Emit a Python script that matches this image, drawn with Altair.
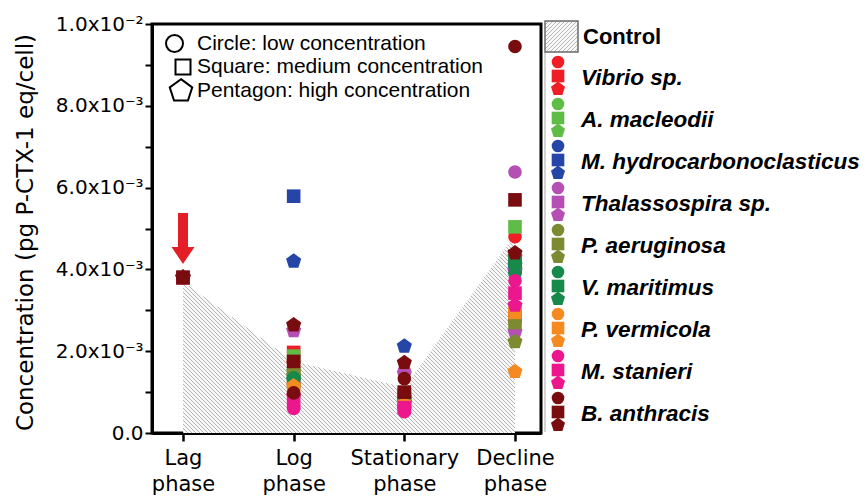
import altair as alt
import numpy as np
import pandas as pd

# ---------------------------------------------------------------- data
species = ["Vibrio sp.", "A. macleodii", "M. hydrocarbonoclasticus",
           "Thalassospira sp.", "P. aeruginosa", "V. maritimus",
           "P. vermicola", "M. stanieri", "B. anthracis"]
species_colors = ["#EE1D26", "#5FBC46", "#2546A6", "#B54FB4", "#7E8A32",
                  "#17894B", "#F58A21", "#EC168D", "#780C0F"]
concentrations = ["low", "medium", "high"]

phase_positions = [1, 2, 3, 4]
phase_names = ["Lag", "Log", "Stationary", "Decline"]

# toxin per cell in 1e-3 pg P-CTX-1 eq/cell; one row per species (low, medium, high)
lag_values = [
    [3.80, 3.80, 3.80], [3.80, 3.80, 3.80], [3.80, 3.80, 3.80],
    [3.80, 3.80, 3.80], [3.80, 3.80, 3.80], [3.80, 3.80, 3.80],
    [3.80, 3.80, 3.80], [3.80, 3.80, 3.80], [3.80, 3.80, 3.80],
]
log_values = [
    [1.55, 1.97, 1.70],
    [1.60, 1.88, 1.50],
    [1.45, 5.79, 4.20],
    [1.20, 1.30, 2.50],
    [1.55, 1.45, 1.40],
    [1.35, 1.25, 1.30],
    [1.10, 1.05, 1.15],
    [0.60, 0.75, 0.90],
    [0.98, 1.75, 2.64],
]
stationary_values = [
    [0.95, 0.90, 0.85],
    [0.80, 0.78, 0.82],
    [0.85, 0.95, 2.12],
    [1.52, 0.90, 1.45],
    [0.75, 0.80, 0.70],
    [0.72, 0.78, 0.74],
    [0.68, 0.65, 0.70],
    [0.52, 0.62, 0.58],
    [1.33, 1.00, 1.72],
]
decline_values = [
    [4.80, 2.85, 4.30],
    [4.20, 5.04, 4.00],
    [4.15, 4.05, 3.95],
    [6.38, 4.06, 2.47],
    [4.28, 2.70, 2.23],
    [3.90, 4.20, 4.10],
    [3.00, 2.95, 1.50],
    [3.72, 3.42, 3.12],
    [9.45, 5.70, 4.40],
]
control_values = [3.70, 1.75, 1.12, 4.85]

y_tick_values = [0, 1, 2, 3, 4, 5, 6, 7, 8, 9, 10]
y_tick_labels = ["0.0", "", "2.0x10⁻³", "", "4.0x10⁻³", "", "6.0x10⁻³", "",
                 "8.0x10⁻³", "", "1.0x10⁻²"]

shape_notes = ["Circle: low concentration", "Square: medium concentration",
               "Pentagon: high concentration"]

# ------------------------------------------------------------ geometry
W, H = 389, 409
X_DOM = [0.72, 4.235]
Y_DOM = [0, 10]
PENTAGON = "M0,-1L0.951,-0.309L0.588,0.809L-0.588,0.809L-0.951,-0.309Z"
# same pentagon drawn a little larger so it matches the circles at equal size
PENTAGON_MARK = "M0,-1.17L1.113,-0.362L0.688,0.947L-0.688,0.947L-1.113,-0.362Z"
ARROW_HEAD = "M-1,0L1,0L0,1.48Z"
ARROW_RED = "#E41E26"
HATCH_GREY = "#b4b4b4"
MARK_SIZE = 185


def x_px(x):
    return (np.asarray(x) - X_DOM[0]) / (X_DOM[1] - X_DOM[0]) * W


def y_px(v):
    return H - np.asarray(v) / Y_DOM[1] * H


def px_x(px):
    return X_DOM[0] + np.asarray(px) / W * (X_DOM[1] - X_DOM[0])


def px_y(py):
    return (H - np.asarray(py)) / H * Y_DOM[1]


def runs(mask):
    m = np.concatenate([[0], mask.astype(int), [0]])
    d = np.diff(m)
    return list(zip(np.where(d == 1)[0], np.where(d == -1)[0] - 1))


x_scale = alt.Scale(domain=X_DOM, nice=False, zero=False)
y_scale = alt.Scale(domain=Y_DOM, nice=False, zero=False)

# ------------------------------------------------------------ tables
rows = []
for pos, table in zip(phase_positions,
                      [lag_values, log_values, stationary_values, decline_values]):
    for sp, triple in zip(species, table):
        for conc, v in zip(concentrations, triple):
            rows.append({"phase": pos, "species": sp, "conc": conc, "value": v})
points = pd.DataFrame(rows)

control = pd.DataFrame({"phase": phase_positions, "value": control_values})

# diagonal hatching under the control curve
sx = np.arange(float(x_px(1)), float(x_px(4)) + 0.01, 0.25)
curve = y_px(np.interp(px_x(sx), phase_positions, control_values))
segs = []
for c in np.arange(-float(x_px(4)), H - float(x_px(1)) + 4, 4.0):
    sy = sx + c
    inside = (sy >= curve) & (sy <= H)
    for a, b in runs(inside):
        segs.append({"x": px_x(sx[a]), "y": px_y(sy[a]),
                     "x2": px_x(sx[b]), "y2": px_y(sy[b])})
hatch = pd.DataFrame(segs)

# legend swatch for the control, hatched the other way
BOX = (393, 426, -3, 28)
bx = np.arange(BOX[0], BOX[1] + 0.01, 0.25)
bsegs = []
for c in np.arange(BOX[0] + BOX[2], BOX[1] + BOX[3] + 4, 4.0):
    by = c - bx
    inside = (by >= BOX[2]) & (by <= BOX[3])
    for a, b in runs(inside):
        bsegs.append({"x": px_x(bx[a]), "y": px_y(by[a]),
                      "x2": px_x(bx[b]), "y2": px_y(by[b])})
box_hatch = pd.DataFrame(bsegs)
box = pd.DataFrame([{"x": px_x(BOX[0]), "x2": px_x(BOX[1]),
                     "y": px_y(BOX[2]), "y2": px_y(BOX[3])}])

# species legend entries
leg_rows, lab_rows = [], []
for i, sp in enumerate(species):
    for conc, off in zip(concentrations, [38, 52, 65]):
        leg_rows.append({"species": sp, "conc": conc,
                         "x": px_x(406), "y": px_y(off + 42 * i)})
    lab_rows.append({"species": sp, "y": px_y(54 + 42 * i)})
leg_marks = pd.DataFrame(leg_rows)
leg_labels = pd.DataFrame(lab_rows)

# ------------------------------------------------------------ axes
y_expr = "''"
for v, lab in reversed(list(zip(y_tick_values, y_tick_labels))):
    y_expr = f"datum.value == {v} ? '{lab}' : {y_expr}"
x_expr = "''"
for pos, name in reversed(list(zip(phase_positions, phase_names))):
    x_expr = f"datum.value == {pos} ? ['{name}', 'phase'] : {x_expr}"

y_axis = alt.Axis(values=y_tick_values, labelExpr=y_expr,
                  title="Concentration (pg P-CTX-1 eq/cell)",
                  titleFont="DejaVu Sans", titleFontSize=23,
                  titleFontWeight="normal", titleColor="black",
                  titleX=-127, titleY=208, titleAngle=270,
                  titleAlign="center", titleBaseline="middle",
                  labelFont="DejaVu Sans", labelFontSize=20, labelColor="black",
                  labelPadding=2, labelFlush=False, labelOverlap=False,
                  tickSize=7, tickWidth=2, tickColor="black",
                  domainColor="black", domainWidth=3, grid=False)
x_axis = alt.Axis(values=phase_positions, labelExpr=x_expr, title="",
                  labelFont="DejaVu Sans", labelFontSize=21, labelColor="black",
                  labelLineHeight=26, labelPadding=6, labelFlush=False,
                  labelOverlap=False, tickSize=8, tickWidth=2.5,
                  tickColor="black", domainColor="black", domainWidth=3,
                  grid=False)

color_scale = alt.Scale(domain=species, range=species_colors)
shape_scale = alt.Scale(domain=concentrations,
                        range=["circle", "square", PENTAGON_MARK])


def X(field):
    return alt.X(field, type="quantitative", scale=x_scale, axis=x_axis)


def Y(field):
    return alt.Y(field, type="quantitative", scale=y_scale, axis=y_axis)


# ------------------------------------------------------------ layers
area = alt.Chart(control).mark_area(color="#f8f8f8").encode(
    x=X("phase"), y=Y("value"))

hatch_lines = alt.Chart(hatch).mark_rule(color=HATCH_GREY, strokeWidth=1).encode(
    x=X("x"), y=Y("y"), x2="x2", y2="y2")

arrow = pd.DataFrame({"phase": [1], "top": [5.38], "bottom": [4.50], "tip": [4.55]})
arrow_shaft = alt.Chart(arrow).mark_rule(color=ARROW_RED, strokeWidth=10,
                                         strokeCap="butt").encode(
    x=X("phase"), y=Y("top"), y2="bottom")
arrow_tip = alt.Chart(arrow).mark_point(shape=ARROW_HEAD, size=529, filled=True,
                                        color=ARROW_RED, opacity=1).encode(
    x=X("phase"), y=Y("tip"))

dots = alt.Chart(points).mark_point(filled=True, opacity=1, size=MARK_SIZE).encode(
    x=X("phase"), y=Y("value"),
    color=alt.Color("species:N", scale=color_scale, legend=None),
    shape=alt.Shape("conc:N", scale=shape_scale, legend=None),
)

# shape key in the upper left
note_layers = []
for shp, sz, nx, ny in [("circle", 289, 22.5, 19.5), ("square", 225, 31, 43),
                        (PENTAGON, 560, 29, 67)]:
    d = pd.DataFrame([{"x": px_x(nx), "y": px_y(ny)}])
    note_layers.append(alt.Chart(d).mark_point(shape=shp, size=sz, filled=False,
                                               stroke="black", strokeWidth=2,
                                               opacity=1).encode(x=X("x"), y=Y("y")))
notes = pd.DataFrame({"label": shape_notes, "y": [px_y(p) for p in [19.5, 43, 67]]})
note_text = alt.Chart(notes).mark_text(align="left", baseline="middle",
                                       font="Liberation Sans", fontSize=21,
                                       color="black").encode(
    x=alt.value(45), y=Y("y"), text="label:N")

# legend on the right
legend_line = pd.DataFrame([{"x": px_x(393), "y": px_y(28), "y2": px_y(408)}])
leg_rule = alt.Chart(legend_line).mark_rule(color="#b5b5b5", strokeWidth=1.2,
                                            clip=False).encode(
    x=X("x"), y=Y("y"), y2="y2")
box_fill = alt.Chart(box).mark_rect(fill="#f8f8f8", clip=False).encode(
    x=X("x"), x2="x2", y=Y("y"), y2="y2")
box_lines = alt.Chart(box_hatch).mark_rule(color=HATCH_GREY, strokeWidth=1,
                                           clip=False).encode(
    x=X("x"), y=Y("y"), x2="x2", y2="y2")
box_border = alt.Chart(box).mark_rect(fillOpacity=0, stroke="#6a6a6a",
                                      strokeWidth=1.5, clip=False).encode(
    x=X("x"), x2="x2", y=Y("y"), y2="y2")
control_label = pd.DataFrame([{"label": "Control", "y": px_y(13)}])
control_text = alt.Chart(control_label).mark_text(
    align="left", baseline="middle", font="Liberation Sans", fontSize=22,
    fontWeight="bold", color="black", clip=False).encode(
    x=alt.value(431), y=Y("y"), text="label:N")

leg_dots = alt.Chart(leg_marks).mark_point(filled=True, opacity=1, size=160,
                                           clip=False).encode(
    x=X("x"), y=Y("y"),
    color=alt.Color("species:N", scale=color_scale, legend=None),
    shape=alt.Shape("conc:N", scale=shape_scale, legend=None),
)
leg_text = alt.Chart(leg_labels).mark_text(
    align="left", baseline="middle", font="Liberation Sans", fontSize=22.5,
    fontWeight="bold", fontStyle="italic", color="black", clip=False).encode(
    x=alt.value(429), y=Y("y"), text="species:N")

chart = alt.layer(
    area, hatch_lines, arrow_shaft, arrow_tip, dots,
    *note_layers, note_text,
    leg_rule, box_fill, box_lines, box_border, control_text,
    leg_dots, leg_text,
).properties(
    width=W, height=H,
    autosize=alt.AutoSizeParams(type="none"),
    padding={"left": 152, "top": 24, "right": 326, "bottom": 64},
).configure_view(stroke="black", strokeWidth=3)

chart.save("out.html", embed_options={"renderer": "svg", "actions": False})
